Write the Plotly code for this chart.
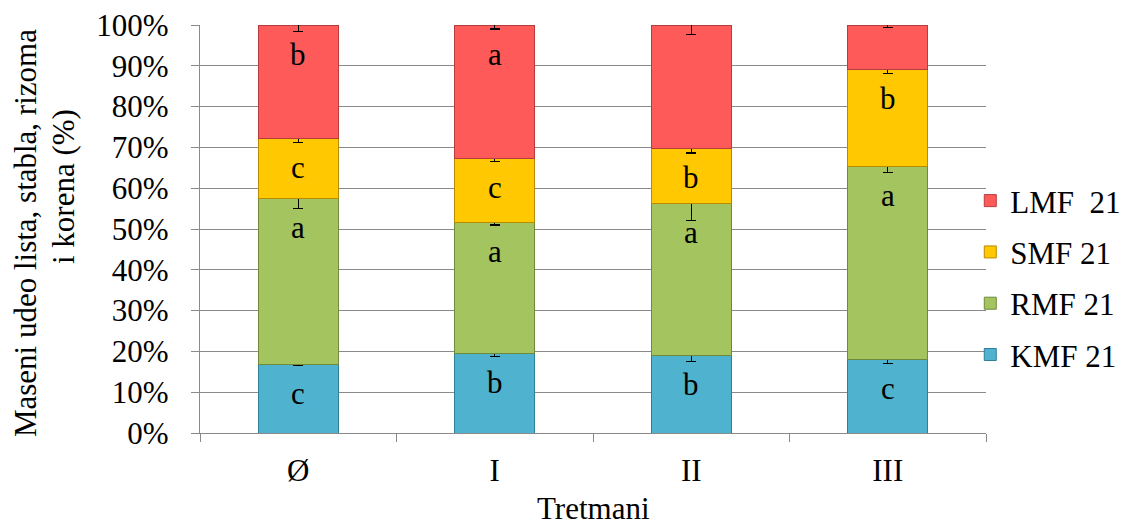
import numpy as np
import plotly.graph_objects as go

# Treatments on the x axis
tretmani = ["Ø", "I", "II", "III"]

# Mass fractions (%) of each plant part, stacked bottom to top
kmf = [16.7, 19.5, 19.1, 18.1]   # korena
rmf = [40.8, 32.0, 37.2, 47.2]   # rizoma
smf = [14.7, 15.9, 13.5, 23.8]   # stabla
lmf = [27.8, 32.6, 30.2, 10.9]   # lista

# Standard errors
kmf_err = [0.2, 0.8, 1.6, 1.0]
rmf_err = [2.45, 0.5, 4.2, 1.4]
smf_err = [1.0, 0.8, 1.15, 1.0]
lmf_err = [1.6, 1.0, 2.4, 0.6]

# Significance letters
kmf_sig = ["c", "b", "b", "c"]
rmf_sig = ["a", "a", "a", "a"]
smf_sig = ["c", "c", "b", "b"]
lmf_sig = ["b", "a", "a", "d"]

y_ticks = list(range(0, 101, 10))
y_tick_labels = [f"{v}%" for v in y_ticks]

FONT = "Times New Roman, Liberation Serif, serif"
FS = 31

series = [
    ("KMF 21", kmf, kmf_err, kmf_sig, "#4FB3CF", "#2f7f99"),
    ("RMF 21", rmf, rmf_err, rmf_sig, "#A3C45E", "#6f8a3a"),
    ("SMF 21", smf, smf_err, smf_sig, "#FFC800", "#b88c00"),
    ("LMF\u00a0 21", lmf, lmf_err, lmf_sig, "#FF5A5A", "#b83c3c"),
]

fig = go.Figure()
annotations = []
cum = np.zeros(len(tretmani))
for i, (name, vals, err, sig, color, edge) in enumerate(series):
    vals = np.asarray(vals, dtype=float)
    fig.add_trace(go.Bar(
        x=tretmani, y=vals, name=name,
        legendgroup=f"g{i}", legendrank=100 - 10 * i,
        marker=dict(color=color, line=dict(color=edge, width=1)),
        error_y=dict(type="data", array=err, visible=True,
                     color="black", thickness=1.3, width=5),
    ))
    cum = cum + vals
    for xc, top, lab in zip(tretmani, cum, sig):
        annotations.append(dict(
            x=xc, y=top, xref="x", yref="y", text=lab, showarrow=False,
            yanchor="middle", yshift=-29,
            font=dict(family=FONT, size=FS, color="black"),
        ))

# Axis titles: two-line y title (each line placed on its own) and x title
for text, xp, yp, ang, ya in [
        ("Maseni udeo lista, stabla, rizoma", -0.2226, 0.490, -90, "middle"),
        ("i korena (%)", -0.1730, 0.603, -90, "middle"),
        ("Tretmani", 0.5, -0.2320, 0, "bottom")]:
    annotations.append(dict(
        x=xp, y=yp, xref="paper", yref="paper", text=text, showarrow=False,
        textangle=ang, xanchor="center", yanchor=ya,
        font=dict(family=FONT, size=FS, color="black"),
    ))

fig.update_layout(
    width=1125, height=528,
    margin=dict(l=200, r=139, t=25, b=95, autoexpand=False),
    paper_bgcolor="white", plot_bgcolor="white",
    barmode="stack", bargap=0.593,
    font=dict(family=FONT, size=FS, color="black"),
    annotations=annotations,
    legend=dict(
        x=0.98, xanchor="left", y=0.38, yanchor="middle",
        traceorder="grouped", tracegroupgap=8,
        bgcolor="rgba(0,0,0,0)",
        font=dict(family=FONT, size=FS, color="black"),
    ),
    xaxis=dict(
        automargin=False,
        showline=True, linecolor="#8a8a8a", linewidth=1.3,
        ticks="outside", tickson="boundaries", ticklen=8,
        tickcolor="#8a8a8a", tickwidth=1.3, ticklabelstandoff=10,
        showgrid=False,
    ),
    yaxis=dict(
        automargin=False,
        range=[0, 100], tickvals=y_ticks, ticktext=y_tick_labels,
        showline=True, linecolor="#8a8a8a", linewidth=1.3,
        ticks="outside", ticklen=8, tickcolor="#8a8a8a", tickwidth=1.3,
        ticklabelstandoff=16,
        showgrid=True, gridcolor="#8a8a8a", gridwidth=1.3,
        zeroline=False,
    ),
)

fig.write_html("out.html")
